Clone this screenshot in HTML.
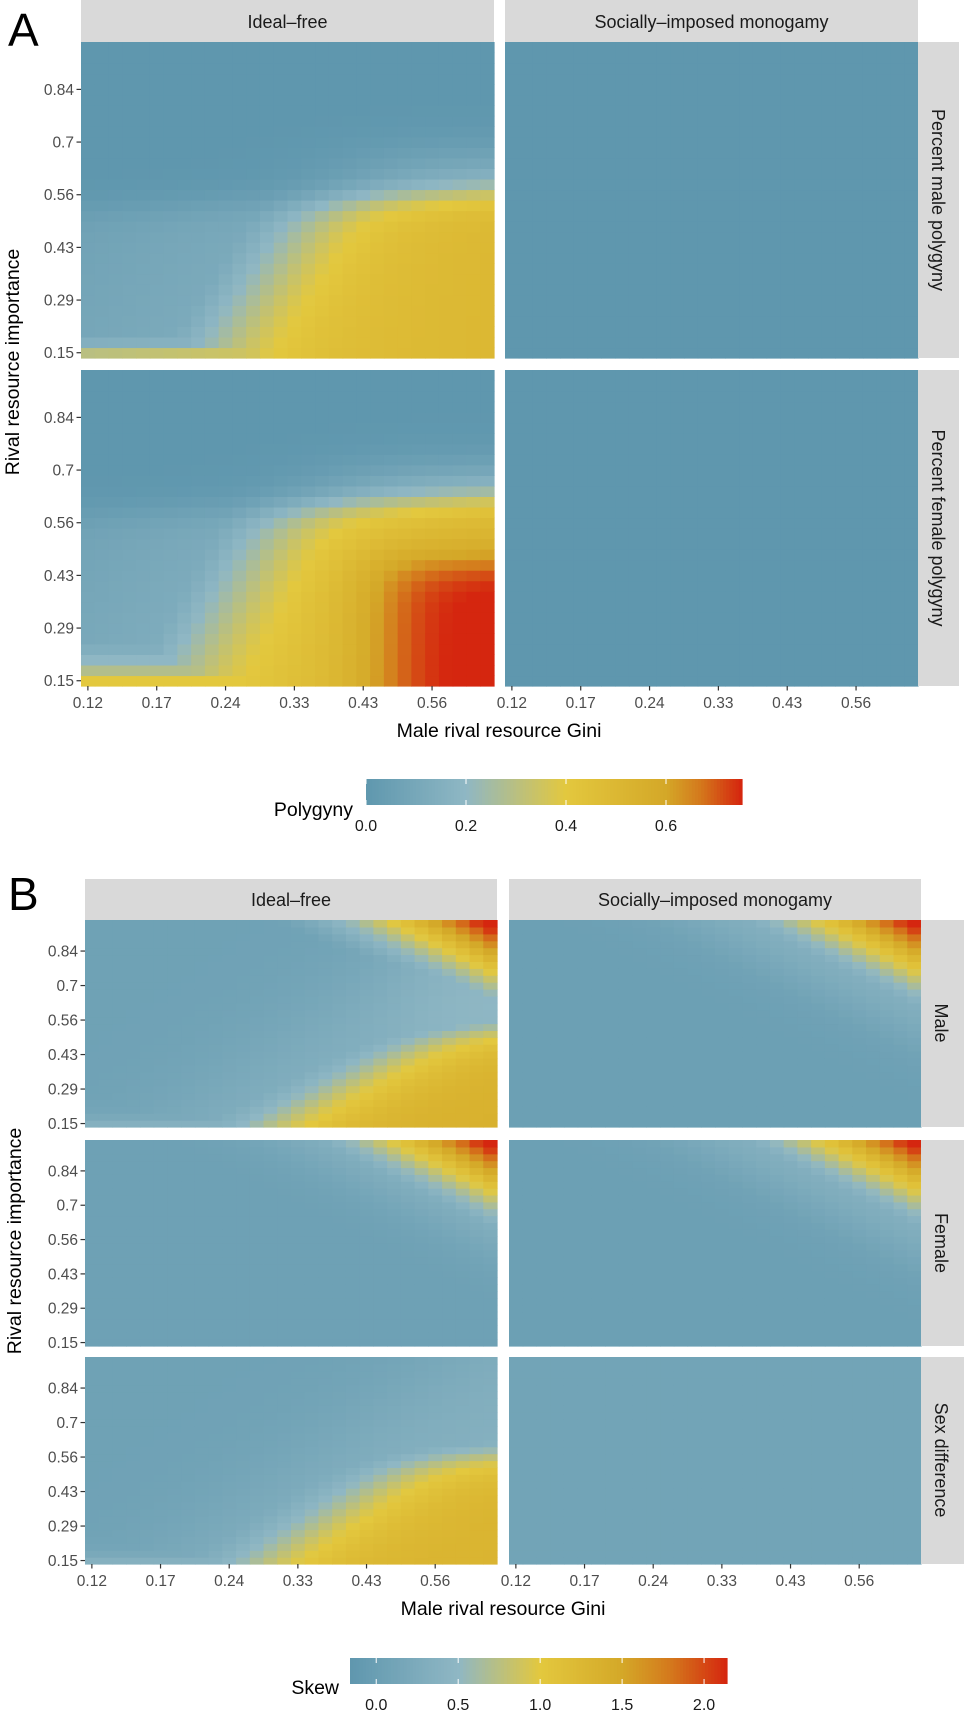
<!DOCTYPE html>
<html><head><meta charset="utf-8"><style>
html,body{margin:0;padding:0;background:#fff;}
svg{display:block;}
text{font-family:"Liberation Sans",Arial,sans-serif;}
.tk{font-size:15.5px;fill:#4d4d4d;}
.st{font-size:18px;fill:#1a1a1a;}
.ax{font-size:19.5px;fill:#000;}
</style></head><body>
<svg id="s" width="964" height="1720" viewBox="0 0 964 1720" xmlns="http://www.w3.org/2000/svg">
<rect width="964" height="1720" fill="#fff"/>
<g id="heat"></g>
<g id="ticks" stroke="#333" stroke-width="1.2"></g>
<g id="labels"></g>
<text x="8" y="46" style="font-size:46px" fill="#000">A</text>
<rect x="81" y="0" width="413" height="42" fill="#d9d9d9"/>
<rect x="505" y="0" width="413" height="42" fill="#d9d9d9"/>
<text class="st" x="287.5" y="28" text-anchor="middle">Ideal–free</text>
<text class="st" x="711.5" y="28" text-anchor="middle">Socially–imposed monogamy</text>
<rect x="918" y="42" width="41" height="316" fill="#d9d9d9"/>
<rect x="918" y="370" width="41" height="316" fill="#d9d9d9"/>
<text class="st" transform="translate(932,200) rotate(90)" text-anchor="middle">Percent male polygyny</text>
<text class="st" transform="translate(932,528) rotate(90)" text-anchor="middle">Percent female polygyny</text>
<text class="ax" x="499" y="737" text-anchor="middle">Male rival resource Gini</text>
<text class="ax" transform="translate(19,362) rotate(-90)" text-anchor="middle">Rival resource importance</text>
<text class="ax" x="353" y="816" text-anchor="end">Polygyny</text>
<text x="8" y="910" style="font-size:46px" fill="#000">B</text>
<rect x="85" y="879" width="412" height="41" fill="#d9d9d9"/>
<rect x="509" y="879" width="412" height="41" fill="#d9d9d9"/>
<text class="st" x="291" y="906" text-anchor="middle">Ideal–free</text>
<text class="st" x="715" y="906" text-anchor="middle">Socially–imposed monogamy</text>
<rect x="921" y="920" width="43" height="207" fill="#d9d9d9"/>
<rect x="921" y="1140" width="43" height="206" fill="#d9d9d9"/>
<rect x="921" y="1357" width="43" height="207" fill="#d9d9d9"/>
<text class="st" transform="translate(935,1023) rotate(90)" text-anchor="middle">Male</text>
<text class="st" transform="translate(935,1243) rotate(90)" text-anchor="middle">Female</text>
<text class="st" transform="translate(935,1460) rotate(90)" text-anchor="middle">Sex difference</text>
<text class="ax" x="503" y="1615" text-anchor="middle">Male rival resource Gini</text>
<text class="ax" transform="translate(21,1241) rotate(-90)" text-anchor="middle">Rival resource importance</text>
<text class="ax" x="339" y="1694" text-anchor="end">Skew</text>
</svg>
<script>
(function(){
var NS='http://www.w3.org/2000/svg';
var heat=document.getElementById('heat'),ticks=document.getElementById('ticks'),labels=document.getElementById('labels');
function hx(h){return [parseInt(h.substr(1,2),16),parseInt(h.substr(3,2),16),parseInt(h.substr(5,2),16)];}
var PA=[[0,'#5f97ae'],[0.2,'#8fb7c4'],[0.4,'#e3c83e'],[0.6,'#d4a828'],[0.67,'#d4781c'],[0.75,'#d5260f']];
var PB=[[-0.16,'#5f97ae'],[0.5,'#8fb7c4'],[1.0,'#e3c83e'],[1.5,'#d4a828'],[1.8,'#d4781c'],[2.14,'#d5260f']];
function cm(st,v){
 if(v<=st[0][0])return st[0][1];
 if(v>=st[st.length-1][0])return st[st.length-1][1];
 for(var i=0;i<st.length-1;i++){if(v<=st[i+1][0]){var t=(v-st[i][0])/(st[i+1][0]-st[i][0]);var a=hx(st[i][1]),b=hx(st[i+1][1]);
 return 'rgb('+Math.round(a[0]+(b[0]-a[0])*t)+','+Math.round(a[1]+(b[1]-a[1])*t)+','+Math.round(a[2]+(b[2]-a[2])*t)+')';}}
}
function el(n,a,p){var e=document.createElementNS(NS,n);for(var k in a)e.setAttribute(k,a[k]);p.appendChild(e);return e;}
function sig(x){return 1/(1+Math.exp(-x));}
function cl(x){return Math.max(0,Math.min(1,x));}
function panel(x0,y0,w,h,fn,st){
 var cw=w/30,ch=h/30;
 for(var i=0;i<30;i++)for(var j=0;j<30;j++){
  var u=i/29,v=j/29;
  el('rect',{x:(x0+i*cw).toFixed(2),y:(y0+h-(j+1)*ch).toFixed(2),width:(cw+0.6).toFixed(2),height:(ch+0.6).toFixed(2),fill:cm(st,fn(u,v))},heat);
 }
}
function A1(u,v){var v0=0.47+0.06*u;var m=sig((v0-v)/0.03);var c=0.3+0.55*v;
 var yel=0.44*sig((u-c)/0.1)+0.06*u;var bot=0.3*Math.exp(-v/0.05)*(1+0.4*u);
 var base=0.1*u+0.06*(1-v)+0.04;
 return m*Math.max(yel,bot,base)+(1-m)*0.12*sig((u-0.7)/0.1)*sig((0.66-v)/0.04);}
function A2(u,v){var v0=0.55+0.05*u;var m=sig((v0-v)/0.03);var c=0.2+0.5*v;
 var yel=0.42*sig((u-c)/0.1)+0.08*u;var red=0.27*sig((u-0.72)/0.06)*sig((0.4-v)/0.04);
 var bot=0.4*Math.exp(-v/0.1);var base=0.12*u+0.08*(1-v)+0.04;
 return m*Math.max(yel+red,bot,base)+(1-m)*0.14*sig((u-0.65)/0.1)*sig((0.7-v)/0.04);}
function corner(u,v,s){return 2.2*Math.pow(cl((u+v-s)/(2-s)),1.5);}
function B1L(u,v){var c=0.45+0.9*v;var br=1.3*sig((u-c)/0.1)*sig((0.5-v)/0.05);
 var lb=0.3*sig((u-0.2-0.7*v)/0.12)+0.15*sig((u-0.8)/0.06)*sig((v-0.4)/0.05);
 var bot=0.3*Math.exp(-v/0.05);
 return 0.06+Math.max(br,corner(u,v,1.45),lb,bot);}
function BR(u,v){return 0.02+Math.max(corner(u,v,1.45),0.35*sig((u+v-1.45)/0.08));}
function B2L(u,v){return 0.04+Math.max(corner(u,v,1.45),0.35*sig((u+v-1.5)/0.08));}
function B3L(u,v){var c=0.42+0.75*v;var br=1.25*sig((u-c)/0.1)*sig((0.55-v)/0.05);
 var lb=0.3*sig((u-0.2-0.7*v)/0.12);var bot=0.3*Math.exp(-v/0.05);
 return 0.06+Math.max(br,lb,bot);}
function C(val){return function(){return val;};}
panel(81,42,413,316,A1,PA);
panel(505,42,413,316,C(0),PA);
panel(81,370,413,316,A2,PA);
panel(505,370,413,316,C(0),PA);
panel(85,920,412,207,B1L,PB);
panel(509,920,412,207,BR,PB);
panel(85,1140,412,206,B2L,PB);
panel(509,1140,412,206,BR,PB);
panel(85,1357,412,207,B3L,PB);
panel(509,1357,412,207,C(0.1),PB);
var yl=['0.15','0.29','0.43','0.56','0.7','0.84'],xl=['0.12','0.17','0.24','0.33','0.43','0.56'];
function yt(px,top,h){var ch=h/30;for(var k=0;k<6;k++){var y=top+h-ch/2-k*5*ch;
 el('line',{x1:px-4.5,x2:px,y1:y,y2:y},ticks);
 var t=el('text',{x:px-7,y:y+5.5,'text-anchor':'end','class':'tk'},labels);t.textContent=yl[k];}}
function xt(px,w,bot){var cw=w/30;for(var k=0;k<6;k++){var x=px+cw/2+k*5*cw;
 el('line',{x1:x,x2:x,y1:bot,y2:bot+4.5},ticks);
 var t=el('text',{x:x,y:bot+22,'text-anchor':'middle','class':'tk'},labels);t.textContent=xl[k];}}
yt(81,42,316);yt(81,370,316);xt(81,413,686);xt(505,413,686);
yt(85,920,207);yt(85,1140,206);yt(85,1357,207);xt(85,412,1564);xt(509,412,1564);
function legend(x0,x1,y0,h,st,vmin,vmax,tv,tl){
 var n=120;for(var i=0;i<n;i++){var v=vmin+(vmax-vmin)*(i+0.5)/n;
  el('rect',{x:(x0+(x1-x0)*i/n).toFixed(2),y:y0,width:((x1-x0)/n+0.6).toFixed(2),height:h,fill:cm(st,v)},heat);}
 for(var k=0;k<tv.length;k++){var x=x0+(x1-x0)*(tv[k]-vmin)/(vmax-vmin);
  el('line',{x1:x,x2:x,y1:y0,y2:y0+5,stroke:'#fff','stroke-width':1},labels);
  el('line',{x1:x,x2:x,y1:y0+h-5,y2:y0+h,stroke:'#fff','stroke-width':1},labels);
  var t=el('text',{x:x,y:y0+h+26,'text-anchor':'middle','class':'tk',style:'fill:#1a1a1a;font-size:16px'},labels);t.textContent=tl[k];}}
legend(366,742,779,26,PA,0,0.752,[0,0.2,0.4,0.6],['0.0','0.2','0.4','0.6']);
legend(350,727,1658,26,PB,-0.16,2.14,[0,0.5,1,1.5,2],['0.0','0.5','1.0','1.5','2.0']);
})();
</script>
</body></html>
